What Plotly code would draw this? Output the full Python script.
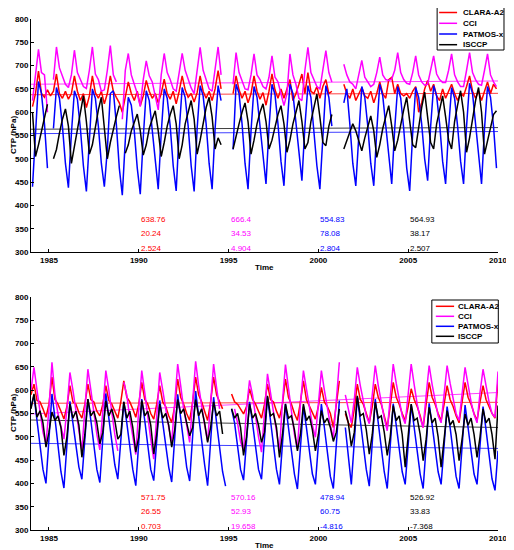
import plotly.graph_objects as go

# ---- data (CTP in hPa, bimonthly samples) ----
NAMES = ['CLARA-A2', 'CCI', 'PATMOS-x', 'ISCCP']
COLORS = ['#ff0000', '#ff00ff', '#0000ff', '#000000']

YEARS = list(range(1984, 2010))
TOP_PHASE = [1 / 12, 3 / 12, 5 / 12, 7 / 12, 9 / 12, 11 / 12]
BOTTOM_PHASE = [0, 1 / 6, 2 / 6, 3 / 6, 4 / 6, 5 / 6]
N = None

# top panel
top_clara = [
    612, 640, 688, 640, 632, 648,
    635, 645, 682, 640, 630, 645,
    628, 640, 678, 645, 625, 640,
    610, 635, 678, 642, 630, 645,
    618, 640, 678, 645, 632, 620,
    600, 630, 665, 640, 625, 645,
    614, 635, 668, 645, 630, 640,
    620, 640, 671, 640, 628, 645,
    618, 645, 678, 648, 632, 640,
    622, 642, 678, 645, 630, 645,
    625, 650, 689, 650, N, N,
    N, 640, 678, 648, 630, 645,
    620, 640, 678, 645, 628, 642,
    615, 645, 682, 648, 630, 650,
    630, 650, 670, 625, 640, 660,
    682, 640, 685, 645, 640, 655,
    630, 655, 670, 640, 645, N,
    N, N, 660, 640, 630, 650,
    625, 640, 653, 635, 630, 645,
    620, 640, 665, 640, 630, 670,
    675, 640, 660, 640, 635, 640,
    630, 645, 655, 600, 620, 650,
    668, 645, 660, 635, 625, 650,
    630, 645, 660, 640, 625, 640,
    635, 655, 678, 645, 630, 645,
    625, 645, 665, 640, 660, 650,
]
top_cci = [
    625, 680, 735, 685, 680, 600,
    N, 670, 740, 695, 675, 660,
    653, 680, 733, 685, 670, 655,
    651, 690, 740, 682, 670, 645,
    648, 690, 743, 680, 665, N,
    585, 690, 726, 680, 660, 640,
    612, 670, 710, 678, 665, 635,
    605, 680, 726, 685, 670, 650,
    645, 685, 726, 690, 670, 652,
    640, 690, 739, 690, 670, 650,
    645, 695, 740, 680, N, N,
    N, 660, 728, 685, 668, 650,
    648, 680, 725, 680, 670, 655,
    650, 675, 721, 675, 665, 640,
    614, 640, 725, 680, 660, 630,
    625, 690, 739, 685, 670, 655,
    650, 690, 732, 685, 665, N,
    N, N, 703, 680, 665, 660,
    650, 680, 711, 675, 665, 655,
    660, 685, 718, 680, 670, 668,
    671, 690, 728, 685, 670, 662,
    660, 685, 721, 680, 665, 658,
    660, 690, 721, 682, 670, 664,
    664, 690, 725, 680, 665, 655,
    655, 690, 728, 685, 670, 660,
    658, 690, 725, 680, 665, 655,
]
top_patmos = [
    440, 560, 666, 640, 575, 480,
    N, 565, 653, 630, 570, 490,
    438, 555, 646, 628, 565, 485,
    430, 540, 650, 630, 570, 490,
    440, 520, 640, 646, 575, 480,
    422, 540, 632, 615, 560, 480,
    424, 545, 646, 625, 565, 490,
    435, 555, 650, 630, 570, 485,
    431, 560, 653, 632, 570, 485,
    430, 565, 657, 635, 575, 490,
    435, 565, 657, 625, N, N,
    N, 520, 660, 640, 575, 490,
    435, 560, 655, 632, 570, 500,
    446, 565, 660, 638, 575, 495,
    442, 565, 660, 640, 580, 505,
    453, 570, 657, 632, 565, 485,
    435, 555, 657, 632, 570, N,
    N, N, 620, 650, 575, 490,
    442, 560, 655, 632, 570, 490,
    442, 560, 660, 635, 570, 495,
    446, 565, 655, 630, 565, 480,
    431, 555, 653, 632, 575, 500,
    453, 570, 657, 635, 575, 495,
    446, 565, 653, 630, 570, 495,
    446, 570, 662, 640, 575, 495,
    446, 565, 655, 632, 570, 480,
]
top_isccp = [
    600, 505, 530, 560, 590, 617,
    N, 500, 520, 555, 585, 607,
    570, 490, 525, 565, 600, 635,
    580, 510, 530, 570, 605, 632,
    570, 500, 535, 565, 590, 614,
    N, 512, 530, 560, 580, 596,
    560, 508, 530, 565, 585, 603,
    560, 505, 535, 570, 595, 614,
    575, 500, 530, 575, 600, 625,
    585, 510, 540, 580, 610, 632,
    590, 521, 545, 530, N, N,
    N, 521, 545, 575, 600, 620,
    580, 510, 540, 575, 600, 618,
    580, 521, 540, 570, 595, 614,
    575, 514, 540, 575, 600, 625,
    580, 521, 535, 580, 610, 639,
    590, 535, 528, 570, 595, N,
    N, N, 521, 540, 560, 575,
    560, 540, 517, 545, 570, 592,
    560, 503, 530, 565, 590, 614,
    570, 517, 540, 575, 605, 632,
    585, 530, 524, 570, 610, 643,
    590, 535, 521, 575, 605, 635,
    590, 540, 521, 580, 615, 646,
    600, 514, 545, 590, 625, 653,
    600, 510, 540, 570, 595, 603,
]

# bottom panel (last value is the 2010.0 sample)
bot_clara = [
    590, 613, 578, 575, 560, 542,
    570, 628, 580, 570, 555, 538,
    565, 610, 575, 570, 552, 540,
    570, 613, 580, 575, 555, 545,
    570, 610, 578, 570, 555, 540,
    575, 620, 585, 575, 560, 542,
    570, 617, 580, 570, 550, 538,
    570, 610, 575, 565, 545, 531,
    565, 624, 585, 570, 550, 535,
    575, 628, 590, 575, 555, 535,
    575, 628, 590, 575, 560, N,
    N, 592, 575, 570, 560, 549,
    565, 603, 580, 570, 555, 540,
    570, 613, 580, 575, 555, 540,
    570, 624, 585, 570, 550, 535,
    575, 620, 580, 565, 550, 538,
    565, 606, 575, 565, 550, 520,
    570, 620, N, 550, 530, 520,
    560, 613, 580, 570, 550, 530,
    565, 613, 585, 570, 545, 520,
    565, 617, 585, 570, 550, 535,
    565, 603, 580, 565, 545, 520,
    570, 617, 585, 570, 550, 535,
    570, 610, 580, 565, 545, 530,
    575, 617, 585, 570, 550, 535,
    575, 610, 580, 565, 550, 540,
    620,
]
bot_cci = [
    600, 649, 600, 560, 510, 485,
    560, 660, 590, 550, 520, 495,
    560, 638, 600, 555, 510, 470,
    560, 645, 600, 555, 505, 472,
    560, 642, 600, 550, 505, 470,
    N, 617, 590, 540, 500, 462,
    560, 642, 595, 540, 495, 452,
    555, 638, 600, 555, 520, 488,
    570, 656, 610, 560, 525, 488,
    575, 662, 610, 565, 525, 490,
    575, 656, 605, 560, N, N,
    N, N, 560, 530, 490, 470,
    560, 621, 590, 545, 500, 467,
    560, 635, 595, 550, 505, 470,
    575, 655, 605, 555, 505, 474,
    570, 642, 600, 560, 525, 499,
    570, 642, 600, 560, 525, 497,
    590, 660, N, 590, 560, 530,
    580, 649, 610, 575, 545, 528,
    585, 653, 610, 570, 540, 513,
    590, 656, 615, 575, 545, 528,
    590, 656, 612, 570, 540, 520,
    590, 653, 612, 575, 545, 530,
    595, 653, 615, 580, 550, 535,
    595, 649, 612, 575, 548, 530,
    595, 645, 610, 575, 550, 542,
    640,
]
bot_patmos = [
    565, 588, 535, 485, 430, 400,
    490, 592, 540, 480, 425, 390,
    490, 576, 530, 480, 435, 409,
    495, 581, 535, 485, 430, 402,
    500, 593, 540, 485, 440, 409,
    495, 575, 530, 480, 430, 395,
    490, 581, 535, 480, 430, 406,
    495, 578, 530, 485, 435, 403,
    500, 591, 540, 485, 435, 405,
    505, 598, 545, 490, 440, 395,
    500, 585, 530, 475, 425, 394,
    N, 560, 530, 480, 430, 407,
    495, 575, 530, 480, 430, 409,
    500, 585, 535, 480, 430, 398,
    495, 571, 520, 470, 420, 388,
    480, 565, 520, 465, 420, 398,
    485, 570, 520, 465, 415, 389,
    485, 578, N, 520, 460, 398,
    490, 585, 535, 480, 430, 394,
    495, 581, 530, 475, 425, 389,
    490, 571, 525, 470, 425, 398,
    485, 569, 520, 465, 420, 389,
    490, 572, 525, 470, 425, 398,
    485, 565, 520, 465, 415, 389,
    485, 568, 520, 470, 420, 398,
    480, 565, 515, 460, 410, 385,
    470,
]
bot_isccp = [
    560, 592, 542, 556, 530, 478,
    510, 553, 535, 545, 520, 460,
    500, 570, 540, 555, 525, 456,
    505, 581, 545, 555, 530, 485,
    510, 577, 545, 560, 535, 495,
    505, 575, 540, 555, 520, 467,
    500, 578, 545, 555, 525, 463,
    505, 570, 540, 550, 525, 478,
    515, 580, 550, 560, 530, 502,
    520, 580, 545, 560, 530, 488,
    520, 575, 545, 555, 506, N,
    N, 560, 540, 550, 520, 460,
    500, 570, 540, 550, 525, 488,
    510, 588, 545, 550, 520, 456,
    505, 570, 540, 545, 515, 470,
    505, 570, 535, 545, 515, 470,
    505, 556, 530, 540, 520, 490,
    510, 560, N, 556, 530, 480,
    510, 588, 545, 550, 515, 463,
    505, 574, 540, 545, 510, 460,
    500, 567, 535, 545, 505, 435,
    495, 570, 535, 540, 505, 449,
    495, 563, 530, 540, 500, 435,
    495, 556, 525, 535, 505, 449,
    495, 549, 525, 540, 505, 456,
    500, 560, 530, 540, 505, 452,
    567,
]

# fitted trend lines, value at 1984 and at 2010
TOP_TREND_START = [637.5, 660, 554, 563.5]
TOP_TREND_END = [640.5, 667, 558.5, 567]
BOT_TREND_START = [572, 549, 486, 536]
BOT_TREND_END = [574, 595, 475, 520]

# mean / std / trend printed in each panel
TOP_STATS = [['638.76', '20.24', '2.524'], ['666.4', '34.53', '4.904'],
             ['554.83', '78.08', '2.804'], ['564.93', '38.17', '2.507']]
BOT_STATS = [['571.75', '26.55', '0.703'], ['570.16', '52.93', '19.658'],
             ['478.94', '60.75', '-4.816'], ['526.92', '33.83', '-7.368']]
STAT_X = [1990, 1995, 2000, 2005]
STAT_Y = [370, 340, 308]

top_x = [y + p for y in YEARS for p in TOP_PHASE]
bot_x = [y + p for y in YEARS for p in BOTTOM_PHASE] + [2010]

FONT = 'Liberation Sans, Arial, sans-serif'
# the page body has an 8px margin, so the figure is made 8px smaller and
# all positions below are given in window pixels
PAGE = 8
W, H = 514 - PAGE, 550 - PAGE
PLOT_L, PLOT_R, PLOT_T, PLOT_B = 30, 498, 15, 526   # window pixels of the plot area


def px_x(x):
    return (x - PLOT_L) / (PLOT_R - PLOT_L)


def px_y(y):
    return (PLOT_B - y) / (PLOT_B - PLOT_T)


fig = go.Figure()

panels = [
    ('x', 'y', top_x, [top_clara, top_cci, top_patmos, top_isccp],
     TOP_TREND_START, TOP_TREND_END),
    ('x2', 'y2', bot_x, [bot_clara, bot_cci, bot_patmos, bot_isccp],
     BOT_TREND_START, BOT_TREND_END),
]
for xa, ya, xs, series, t0, t1 in panels:
    for i, name in enumerate(NAMES):
        fig.add_trace(go.Scatter(x=[1984, 2010], y=[t0[i], t1[i]], mode='lines',
                                 line=dict(color=COLORS[i], width=1), opacity=0.75,
                                 xaxis=xa, yaxis=ya, showlegend=False, hoverinfo='skip'))
    for i, name in enumerate(NAMES):
        fig.add_trace(go.Scatter(x=xs, y=series[i], mode='lines', name=name,
                                 line=dict(color=COLORS[i], width=1.5),
                                 connectgaps=False, xaxis=xa, yaxis=ya, showlegend=False))

annotations = []
for ref, stats in (('', TOP_STATS), ('2', BOT_STATS)):
    for i, col in enumerate(stats):
        for j, txt in enumerate(col):
            annotations.append(dict(x=STAT_X[i], y=STAT_Y[j], xref='x' + ref, yref='y' + ref,
                                    text=txt, showarrow=False, xanchor='left', yanchor='middle',
                                    font=dict(size=8, color=COLORS[i], family=FONT)))

# axis titles
for ty, cy in ((263, 131.5), (541, 409.5)):
    annotations.append(dict(x=px_x(264), y=px_y(ty), xref='paper', yref='paper',
                            text='<b>Time</b>', showarrow=False,
                            xanchor='center', yanchor='middle',
                            font=dict(size=8, color='black', family=FONT)))
    annotations.append(dict(x=px_x(12.5), y=px_y(cy), xref='paper', yref='paper',
                            text='<b>CTP (hPa)</b>', textangle=-90, showarrow=False,
                            xanchor='center', yanchor='middle',
                            font=dict(size=8, color='black', family=FONT)))

# hand-drawn legends (box, line samples, labels) in window pixels
shapes = []
legends = [
    ((437, 504, 2, 46), [8.5, 19.3, 30.0, 40.7], 439, 457, 460.5),
    ((431.7, 498.3, 296, 339), [302.3, 312.3, 322.3, 332.3], 435.7, 454, 456.3),
]
for (x0, x1, y0, y1), rows, lx0, lx1, tx in legends:
    shapes.append(dict(type='rect', xref='paper', yref='paper', x0=px_x(x0), x1=px_x(x1),
                       y0=px_y(y0), y1=px_y(y1), line=dict(color='black', width=1),
                       fillcolor='white', layer='above'))
    for i, name in enumerate(NAMES):
        shapes.append(dict(type='line', xref='paper', yref='paper', x0=px_x(lx0), x1=px_x(lx1),
                           y0=px_y(rows[i]), y1=px_y(rows[i]),
                           line=dict(color=COLORS[i], width=1.5), layer='above'))
        annotations.append(dict(x=px_x(tx), y=px_y(rows[i]), xref='paper', yref='paper',
                                text='<b>' + name + '</b>', showarrow=False, xanchor='left',
                                yanchor='middle', font=dict(size=8, color='black', family=FONT)))

tickfont = dict(size=8, color='black', family=FONT, weight='bold')
xaxis_style = dict(range=[1984, 2010], tickvals=[1985, 1990, 1995, 2000, 2005, 2010],
                   ticks='inside', ticklen=3, tickcolor='black', showline=True,
                   linecolor='black', linewidth=1, showgrid=False, zeroline=False,
                   tickfont=tickfont, domain=[0, 1])
yaxis_style = dict(range=[300, 800], dtick=50, ticks='inside', ticklen=3, tickcolor='black',
                   showline=True, linecolor='black', linewidth=1, showgrid=False,
                   zeroline=False, tickfont=tickfont)

fig.update_layout(
    width=W, height=H,
    margin=dict(l=PLOT_L - PAGE, r=514 - PLOT_R, t=PLOT_T - PAGE, b=550 - PLOT_B - PAGE),
    paper_bgcolor='white', plot_bgcolor='white',
    showlegend=False,
    xaxis=dict(xaxis_style, anchor='y'),
    yaxis=dict(yaxis_style, domain=[px_y(248), 1], anchor='x'),
    xaxis2=dict(xaxis_style, anchor='y2'),
    yaxis2=dict(yaxis_style, domain=[0, px_y(293)], anchor='x2'),
    annotations=annotations,
    shapes=shapes,
    font=dict(family=FONT, size=8),
)

fig.write_html('out.html')
